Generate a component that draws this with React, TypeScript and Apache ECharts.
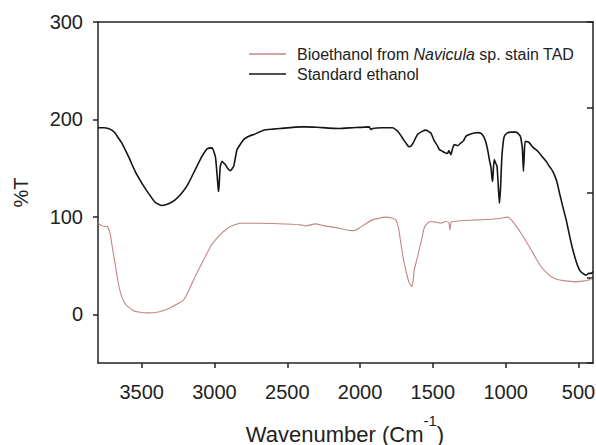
import React, { useEffect, useRef } from "react";
import * as echarts from "echarts";

const FONT = "'Liberation Sans', Arial, sans-serif";

const xTicks = [500, 1000, 1500, 2000, 2500, 3000, 3500];
const yTicks = [0, 100, 200, 300];

const seriesNames = ["Bioethanol from Navicula sp. stain TAD", "Standard ethanol"];

const stdWavenumber = [
  3800, 3760, 3729, 3700, 3683, 3660, 3637, 3591, 3545, 3499, 3454, 3407, 3361, 3316, 3270, 3224,
  3178, 3132, 3086, 3051, 3017, 2994, 2983, 2975, 2971, 2966, 2960, 2948, 2935, 2925, 2910, 2891,
  2868, 2845, 2799, 2760, 2730, 2662, 2600, 2547, 2409, 2374, 2300, 2145, 2050, 1938, 1925, 1915,
  1850, 1777, 1750, 1732, 1700, 1686, 1665, 1651, 1635, 1605, 1570, 1548, 1514, 1490, 1467, 1455,
  1434, 1420, 1400, 1390, 1376, 1365, 1353, 1330, 1307, 1290, 1272, 1240, 1215, 1190, 1169, 1150,
  1135, 1120, 1112, 1100, 1094, 1089, 1084, 1078, 1068, 1059, 1050, 1043, 1035, 1027, 1018, 1009,
  990, 963, 930, 917, 900, 894, 885, 878, 872, 866, 850, 837, 810, 779, 750, 722, 700, 676, 650,
  630, 610, 584, 560, 538, 515, 492, 470, 446, 430, 412, 400,
];
const stdT = [
  191.4, 191.5, 190.7, 188.5, 186, 181, 176, 162, 146.7, 134.7, 124.4, 114.8, 111.7, 113.4, 117.5, 124.4,
  134.7, 148.5, 162, 169.8, 170.8, 162, 145, 130, 126, 138, 151.9, 157, 155, 153.6, 150, 147.4,
  151.9, 169, 179.4, 183, 184.5, 189, 190, 190.7, 192.4, 192.4, 192, 190.7, 191.5, 192.4, 189.5, 190.7,
  191.5, 191.4, 189, 186, 179, 176, 172, 172.5, 176, 184.5, 188, 189, 186, 178, 172.5, 169,
  167.3, 166, 165, 168, 163.9, 170, 174.2, 173, 176, 178, 182.8, 185, 186, 186.5, 185.6, 182,
  176, 166, 158.8, 150, 140, 136.4, 150, 158.8, 155, 151.9, 130, 114, 130, 158.8, 175, 182.8,
  186, 187, 187, 186, 183, 179.4, 170, 146.7, 165, 177.6, 177, 176, 171, 167.3, 162, 157, 152, 146.7, 137,
  124.4, 112, 96.9, 80, 66, 54, 45.4, 42, 40.2, 42, 42, 44,
];

const bioWavenumber = [
  3800, 3775, 3752, 3740, 3729, 3715, 3706, 3683, 3660, 3637, 3610, 3591, 3560, 3522, 3454, 3385,
  3340, 3292, 3250, 3214, 3178, 3132, 3098, 3060, 3029, 3000, 2960, 2920, 2891, 2850, 2822, 2700,
  2560, 2409, 2374, 2306, 2250, 2145, 2090, 2053, 2030, 2007, 1960, 1915, 1870, 1823, 1790, 1755,
  1735, 1720, 1700, 1686, 1665, 1651, 1645, 1635, 1628, 1610, 1594, 1575, 1560, 1540, 1514, 1480,
  1445, 1410, 1390, 1383, 1376, 1364, 1300, 1192, 1100, 1032, 986, 960, 930, 894, 860, 825, 790,
  756, 720, 687, 650, 618, 527, 470, 435, 408,
];
const bioT = [
  93.5, 91, 90, 90.5, 88.3, 82, 72.9, 52.3, 31.6, 17.9, 10, 7.6, 4, 2.4, 1.4, 2.4,
  4.5, 7.6, 11, 14.4, 24, 39, 49, 60, 69, 75, 82, 87, 90, 92.5, 93.5, 93.5,
  93, 91.8, 90.7, 92.8, 91, 88.3, 86.5, 85.9, 86.5, 88.3, 93, 96.9, 98.5, 99.7, 99, 96.9,
  88, 72.9, 55, 45.4, 33, 29.9, 28.2, 35, 45.4, 56, 66, 78, 88.3, 93, 95.2, 94.5,
  93.5, 95.2, 94, 86.6, 94, 95.2, 96, 96.9, 97.5, 98.6, 99.7, 97, 91, 83.2, 75, 66, 57,
  48.8, 43, 38.5, 36, 35, 33.3, 34, 35, 36.8,
];

const pair = (xs: number[], ys: number[]) => xs.map((x, i) => [x, ys[i]]);

export default function App() {
  const ref = useRef<HTMLDivElement>(null);
  useEffect(() => {
    if (!ref.current) return;
    const chart = echarts.init(ref.current, null, { renderer: "svg" });
    const axisColor = "#222";
    const lineStyle = { color: axisColor, width: 1.5 };
    const bioColor = "#c48585";
    const stdColor = "#151515";
    chart.setOption({
      animation: false,
      backgroundColor: "#fff",
      grid: { left: 98, right: 3, top: 22, bottom: 82, containLabel: false, outerBoundsMode: "none" },
      legend: {
        orient: "vertical",
        left: 249,
        top: 46,
        padding: 0,
        itemWidth: 37,
        itemHeight: 1.5,
        itemGap: 4,
        icon: "rect",
        data: [
          { name: seriesNames[0], itemStyle: { color: bioColor } },
          { name: seriesNames[1], itemStyle: { color: stdColor } },
        ],
        formatter: (name: string) =>
          name === seriesNames[0] ? "Bioethanol from {i|Navicula} sp. stain TAD" : name,
        textStyle: {
          fontFamily: FONT,
          fontSize: 16,
          color: "#222",
          lineHeight: 14,
          padding: [0, 0, 0, 6],
          rich: { i: { fontStyle: "italic", fontFamily: FONT, fontSize: 16, color: "#222", lineHeight: 14 } },
        },
      },
      graphic: [
        {
          type: "text",
          x: 345,
          y: 412,
          style: {
            text: "{m|Wavenumber (Cm}{s|-1}{m|)}",
            align: "center",
            verticalAlign: "top",
            rich: {
              m: { fontSize: 22, fontFamily: FONT, fill: axisColor, lineHeight: 33, verticalAlign: "bottom", height: 22 },
              s: { fontSize: 15, fontFamily: FONT, fill: axisColor, lineHeight: 16, verticalAlign: "top", height: 16 },
            },
          },
        },
      ],
      xAxis: [
        {
          type: "value",
          inverse: true,
          min: 400,
          max: 3800,
          position: "bottom",
          axisLine: { show: true, onZero: false, lineStyle },
          axisTick: { show: true, length: 5, customValues: xTicks, lineStyle },
          axisLabel: {
            customValues: xTicks,
            formatter: (v: number) => String(v),
            fontSize: 20,
            fontFamily: FONT,
            color: axisColor,
            margin: 19,
          },
          splitLine: { show: false },
        },
        {
          type: "value",
          inverse: true,
          min: 400,
          max: 3800,
          position: "top",
          axisLine: { show: true, onZero: false, lineStyle },
          axisTick: { show: false },
          axisLabel: { show: false },
          splitLine: { show: false },
        },
      ],
      yAxis: [
        {
          type: "value",
          min: -50,
          max: 300,
          position: "left",
          axisLine: { show: true, onZero: false, lineStyle },
          axisTick: { show: true, length: 5, customValues: yTicks, lineStyle },
          axisLabel: {
            customValues: yTicks,
            formatter: (v: number) => String(v),
            fontSize: 20,
            fontFamily: FONT,
            color: axisColor,
            margin: 15,
          },
          splitLine: { show: false },
          name: "%T",
          nameLocation: "middle",
          nameRotate: 90,
          nameGap: 67,
          nameMoveOverlap: false,
          nameTextStyle: { fontSize: 20, fontFamily: FONT, color: axisColor },
        },
        {
          type: "value",
          min: 0,
          max: 4,
          interval: 1,
          position: "right",
          axisLine: { show: true, onZero: false, lineStyle },
          axisTick: { show: true, inside: true, length: 6, lineStyle },
          axisLabel: { show: false },
          splitLine: { show: false },
        },
      ],
      series: [
        {
          name: seriesNames[0],
          type: "line",
          xAxisIndex: 0,
          yAxisIndex: 0,
          data: pair(bioWavenumber, bioT),
          showSymbol: false,
          symbol: "none",
          smooth: 0.2,
          color: bioColor,
          lineStyle: { color: bioColor, width: 1.1 },
          z: 2,
        },
        {
          name: seriesNames[1],
          type: "line",
          xAxisIndex: 0,
          yAxisIndex: 0,
          data: pair(stdWavenumber, stdT),
          showSymbol: false,
          symbol: "none",
          smooth: 0.15,
          color: stdColor,
          lineStyle: { color: stdColor, width: 1.6 },
          z: 3,
        },
      ],
    });
    return () => chart.dispose();
  }, []);
  return <div ref={ref} style={{ width: 596, height: 445, position: "absolute", left: 0, top: 0 }} />;
}
